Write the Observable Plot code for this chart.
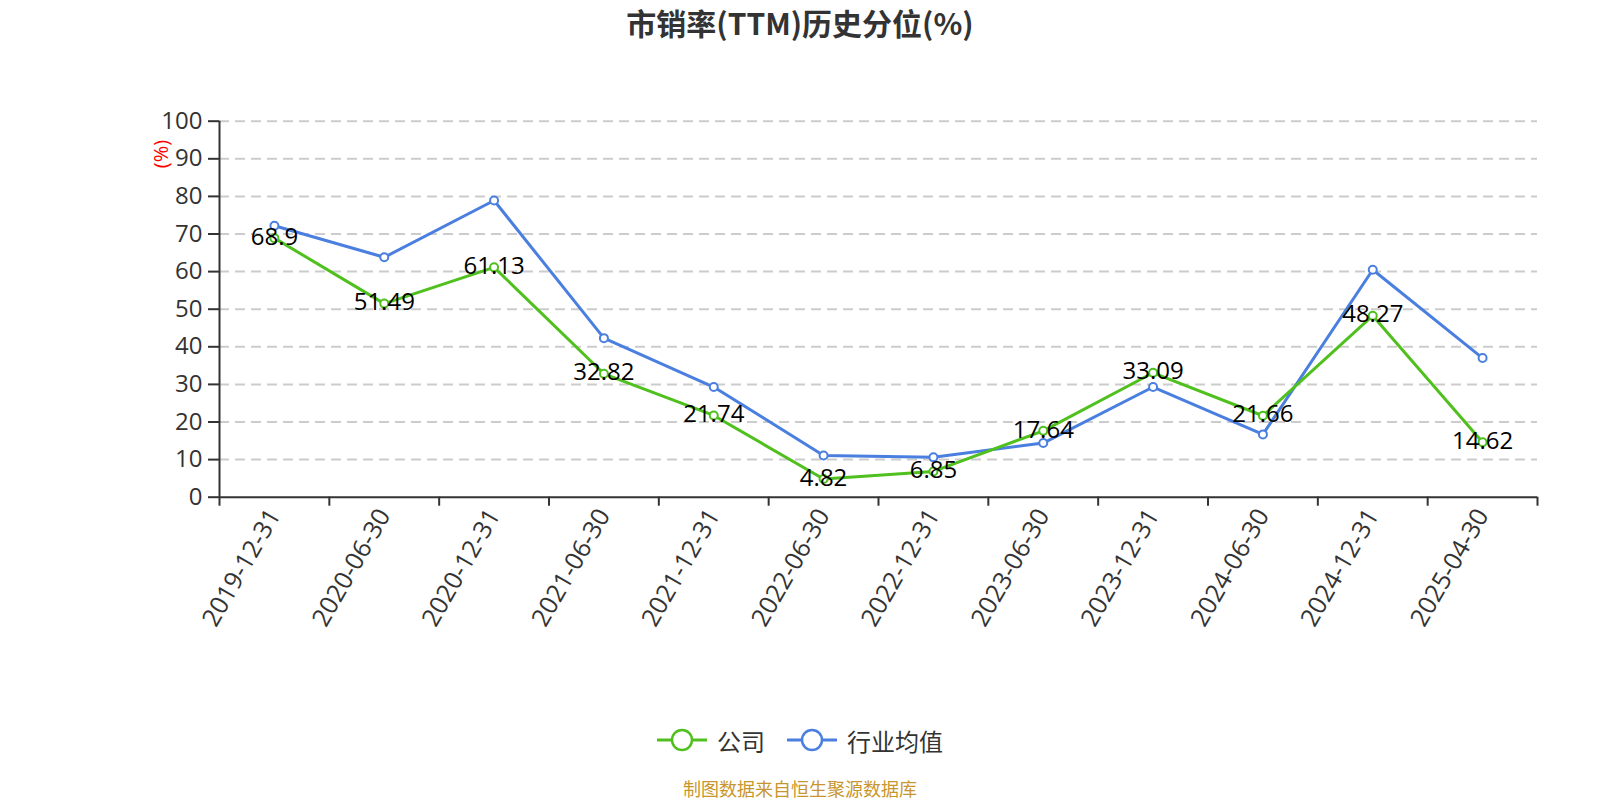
<!DOCTYPE html>
<html>
<head>
<meta charset="utf-8">
<script src="https://cdn.jsdelivr.net/npm/d3@7"></script>
<script src="https://cdn.jsdelivr.net/npm/@observablehq/plot@0.6"></script>
<style>
  html, body { margin: 0; padding: 0; background: #fff; }
  body { width: 1600px; height: 800px; overflow: hidden; font-family: "Open Sans", "Noto Sans CJK SC", sans-serif; }
  #title { height: 46px; line-height: 44px; text-align: center; font-size: 30px; font-weight: bold; color: #333; font-family: "Noto Sans CJK SC", sans-serif; }
  #chart { height: 594px; }
  #chart svg { display: block; }
  #legend { margin-top: 80px; height: 40px; display: flex; justify-content: center; align-items: center; gap: 22px; font-size: 24px; color: #333; font-family: "Noto Sans CJK SC", sans-serif; }
  .item { display: flex; align-items: center; gap: 10px; }
  #source { margin-top: 16px; height: 24px; line-height: 24px; text-align: center; font-size: 18px; color: #c8962e; font-family: "Noto Sans CJK SC", sans-serif; }
</style>
</head>
<body>
<div id="title">市销率(TTM)历史分位(%)</div>
<div id="chart"></div>
<div id="legend"></div>
<div id="source">制图数据来自恒生聚源数据库</div>
<script>
const dates = ["2019-12-31","2020-06-30","2020-12-31","2021-06-30","2021-12-31","2022-06-30","2022-12-31","2023-06-30","2023-12-31","2024-06-30","2024-12-31","2025-04-30"];
const company = [68.9, 51.49, 61.13, 32.82, 21.74, 4.82, 6.85, 17.64, 33.09, 21.66, 48.27, 14.62];
const industry = [72.2, 63.8, 78.9, 42.3, 29.3, 11.1, 10.6, 14.4, 29.3, 16.7, 60.5, 37.0];
const yTicks = [0, 10, 20, 30, 40, 50, 60, 70, 80, 90, 100];
const seriesNames = ["公司", "行业均值"];
const colors = ["#4fc01d", "#4a7fe0"];

const rows = dates.map((d, i) => ({pos: i + 0.5, date: d, company: company[i], industry: industry[i]}));
const boundaries = d3.range(0, dates.length + 1);

const fontFam = '"Open Sans", "Noto Sans CJK SC", sans-serif';

const chart = Plot.plot({
  width: 1600,
  height: 594,
  marginLeft: 219,
  marginRight: 63,
  marginTop: 74.7,
  marginBottom: 143.3,
  x: {type: "linear", domain: [0, dates.length], axis: null},
  y: {domain: [0, 100], axis: null},
  style: {fontFamily: fontFam, fontSize: "24px", color: "#333", background: "white"},
  marks: [
    Plot.gridY(yTicks.filter(v => v > 0), {stroke: "#cccccc", strokeOpacity: 1, strokeWidth: 2, strokeDasharray: "10,6"}),
    Plot.axisY({ticks: yTicks, tickSize: 11, tickPadding: 6, tickFormat: d => String(d), stroke: "#333", strokeWidth: 2, fill: "#333", fontSize: 24, label: null}),
    Plot.ruleX([0], {stroke: "#333", strokeWidth: 2}),
    Plot.ruleY([0], {stroke: "#333", strokeWidth: 2}),
    Plot.axisX({ticks: boundaries, tickSize: 9, tickFormat: () => "", stroke: "#333", strokeWidth: 2, label: null}),
    Plot.axisX({ticks: rows.map(r => r.pos), tickSize: 0, tickPadding: 14, tickRotate: -60, tickFormat: v => dates[Math.round(v - 0.5)], fill: "#333", fontSize: 25, label: null}),
    Plot.text(["(%)"], {text: d => d, frameAnchor: "top-left", rotate: -90, dx: -66, dy: 47, fill: "red", fontSize: 20}),
    Plot.line(rows, {x: "pos", y: "industry", stroke: colors[1], strokeWidth: 3}),
    Plot.line(rows, {x: "pos", y: "company", stroke: colors[0], strokeWidth: 3}),
    Plot.dot(rows, {x: "pos", y: "industry", r: 4, fill: "white", stroke: colors[1], strokeWidth: 2}),
    Plot.dot(rows, {x: "pos", y: "company", r: 4, fill: "white", stroke: colors[0], strokeWidth: 2}),
    Plot.text(rows, {x: "pos", y: "company", text: d => String(d.company), fill: "#000", fontSize: 24, lineAnchor: "middle", dy: -1})
  ]
});
document.getElementById("chart").appendChild(chart);

const legend = document.getElementById("legend");
seriesNames.forEach((name, i) => {
  const item = document.createElement("div");
  item.className = "item";
  item.innerHTML = `<svg width="50" height="24" viewBox="0 0 50 24"><line x1="0" y1="12" x2="50" y2="12" stroke="${colors[i]}" stroke-width="3"/><circle cx="25" cy="12" r="10" fill="white" stroke="${colors[i]}" stroke-width="2.5"/></svg><span>${name}</span>`;
  legend.appendChild(item);
});
</script>
</body>
</html>
